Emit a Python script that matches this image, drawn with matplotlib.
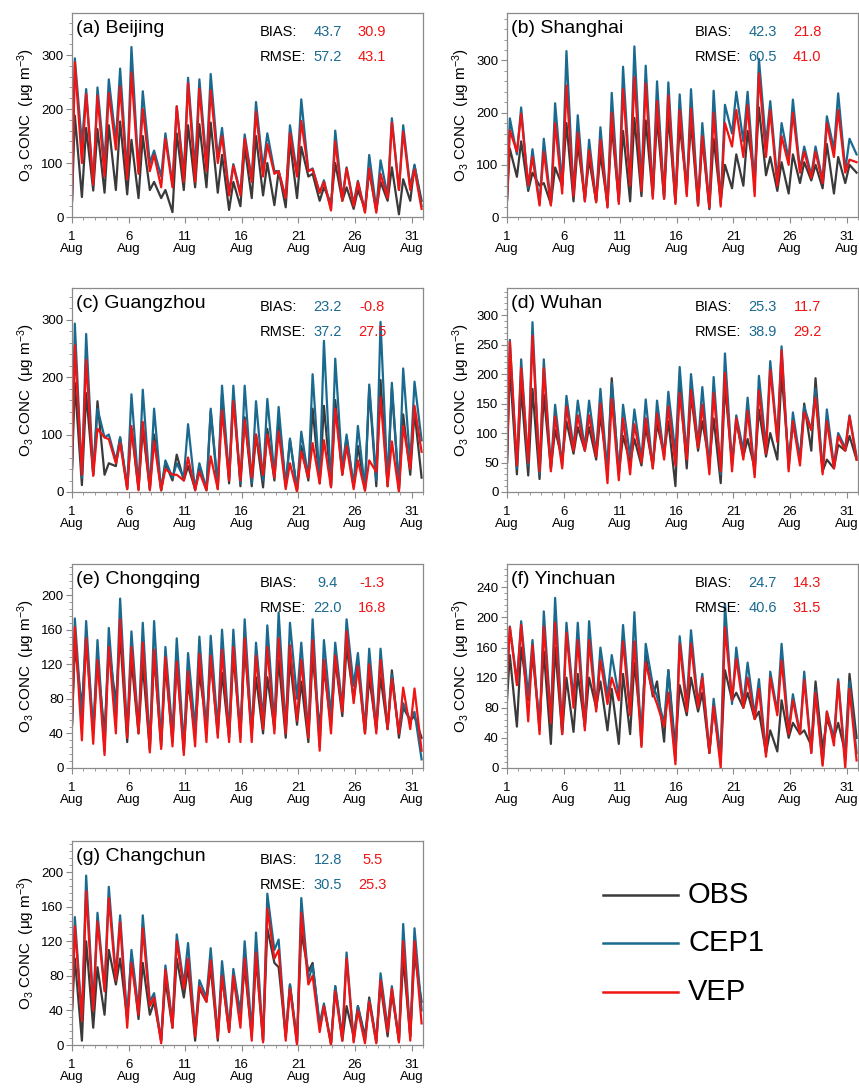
import numpy as np
import matplotlib
matplotlib.use("Agg")
import matplotlib.pyplot as plt
from matplotlib.ticker import MultipleLocator

plt.rcParams["font.family"] = ["Liberation Sans", "DejaVu Sans"]
plt.rcParams["mathtext.default"] = "regular"

# Hourly O3 read off the picture as: value at 00 UTC on 1 Aug, then for each
# day the afternoon peak (~06 UTC) and the night trough (~21 UTC).
bj_obs = [30, 188, 37, 165, 49, 163, 45, 170, 50, 177, 42, 143, 35, 150, 50, 65, 35, 50, 9, 155, 50,
          170, 55, 172, 55, 175, 45, 115, 13, 65, 20, 130, 35, 150, 40, 100, 22, 85, 18, 140, 35,
          130, 75, 80, 30, 55, 25, 100, 30, 55, 15, 50, 15, 85, 12, 65, 30, 92, 5, 70, 30, 95, 30]
bj_cep = [30, 294, 135, 237, 60, 240, 100, 255, 140, 275, 80, 315, 85, 233, 100, 123, 75, 155, 60, 205, 80,
          258, 90, 255, 100, 265, 110, 165, 45, 98, 45, 153, 70, 213, 90, 155, 85, 85, 35, 170, 80,
          218, 85, 90, 45, 68, 15, 160, 35, 92, 25, 67, 10, 115, 15, 105, 40, 183, 50, 170, 55, 97, 20]
bj_vep = [30, 287, 100, 228, 60, 225, 75, 230, 125, 242, 70, 268, 80, 200, 85, 115, 55, 145, 55, 205, 65,
          248, 65, 238, 85, 235, 100, 150, 40, 95, 40, 145, 65, 195, 75, 135, 80, 85, 35, 155, 75,
          178, 85, 88, 45, 65, 12, 140, 30, 90, 20, 65, 8, 90, 8, 80, 35, 175, 50, 158, 50, 88, 15]

sh_obs = [32, 131, 77, 145, 50, 85, 60, 65, 25, 95, 60, 180, 30, 140, 35, 110, 30, 120, 25, 175, 30,
          165, 30, 190, 40, 185, 40, 190, 35, 195, 28, 175, 60, 180, 22, 150, 15, 150, 30, 100, 55,
          120, 60, 165, 75, 210, 80, 115, 50, 105, 45, 120, 65, 105, 70, 100, 55, 140, 45, 115, 65, 100, 85]
sh_cep = [32, 189, 120, 210, 55, 130, 25, 150, 25, 218, 60, 318, 45, 195, 30, 148, 30, 172, 20, 238, 30,
          288, 65, 327, 60, 290, 45, 260, 40, 258, 30, 235, 45, 245, 25, 180, 20, 242, 25, 215, 160,
          240, 145, 240, 60, 303, 140, 222, 70, 180, 110, 225, 90, 135, 80, 135, 70, 193, 130, 237, 90, 150, 120]
sh_vep = [32, 166, 125, 198, 60, 115, 22, 125, 22, 180, 45, 252, 40, 162, 30, 128, 28, 148, 18, 200, 25,
          245, 60, 268, 50, 256, 35, 222, 35, 233, 25, 205, 40, 208, 22, 155, 18, 200, 20, 180, 135,
          205, 115, 215, 40, 275, 115, 205, 60, 155, 100, 200, 85, 125, 75, 125, 65, 180, 115, 205, 85, 110, 105]

gz_obs = [40, 190, 12, 172, 30, 158, 30, 50, 45, 95, 5, 110, 5, 110, 5, 100, 3, 50, 20, 65, 20,
          45, 5, 45, 3, 140, 5, 170, 15, 170, 10, 130, 10, 100, 8, 110, 20, 130, 10, 90, 5,
          80, 20, 145, 15, 150, 10, 160, 30, 95, 10, 80, 5, 180, 10, 195, 10, 180, 5, 135, 30, 140, 25]
gz_cep = [40, 293, 25, 275, 30, 145, 95, 100, 55, 95, 10, 170, 8, 178, 5, 145, 3, 55, 25, 50, 25,
          118, 3, 50, 5, 145, 10, 185, 25, 185, 15, 185, 15, 158, 20, 162, 30, 148, 10, 93, 3,
          105, 25, 205, 20, 263, 10, 232, 40, 100, 10, 115, 5, 187, 20, 296, 15, 190, 5, 215, 50, 192, 90]
gz_vep = [40, 255, 30, 230, 28, 110, 95, 92, 50, 85, 5, 115, 3, 122, 3, 88, 3, 40, 30, 30, 20,
          60, 3, 35, 3, 62, 5, 142, 20, 158, 20, 125, 25, 100, 30, 100, 25, 105, 5, 50, 0,
          70, 25, 85, 15, 90, 8, 145, 30, 80, 5, 55, 2, 55, 35, 165, 10, 88, 0, 115, 40, 150, 70]

wh_obs = [50, 212, 30, 175, 28, 175, 22, 165, 40, 105, 55, 120, 65, 110, 70, 110, 55, 130, 40, 193, 30,
          95, 50, 90, 45, 110, 45, 115, 65, 120, 10, 190, 40, 165, 70, 120, 50, 125, 15, 180, 50,
          120, 60, 90, 40, 140, 60, 100, 55, 200, 55, 115, 60, 150, 70, 193, 35, 55, 40, 80, 70, 95, 55]
wh_cep = [50, 258, 40, 225, 45, 288, 30, 225, 40, 148, 45, 163, 75, 155, 75, 155, 65, 175, 30, 185, 30,
          148, 60, 140, 55, 157, 40, 155, 60, 170, 65, 212, 60, 200, 80, 178, 40, 195, 30, 235, 45,
          130, 70, 160, 30, 197, 75, 222, 90, 247, 40, 135, 55, 145, 105, 175, 35, 140, 45, 100, 75, 130, 60]
wh_vep = [50, 255, 45, 210, 50, 265, 35, 210, 35, 128, 40, 145, 70, 130, 70, 130, 60, 150, 15, 158, 20,
          125, 30, 115, 50, 125, 40, 133, 55, 145, 45, 168, 55, 173, 75, 148, 30, 168, 35, 202, 35,
          125, 55, 138, 25, 172, 65, 207, 85, 240, 35, 120, 45, 135, 105, 160, 30, 120, 40, 95, 70, 128, 55]

cq_obs = [50, 142, 70, 152, 40, 125, 40, 140, 75, 153, 30, 125, 40, 120, 20, 130, 25, 120, 30, 125, 20,
          100, 40, 110, 50, 125, 40, 110, 35, 130, 40, 140, 40, 105, 40, 105, 45, 125, 35, 125, 50,
          100, 30, 130, 45, 115, 50, 125, 60, 140, 80, 120, 40, 105, 45, 105, 45, 113, 35, 70, 55, 60, 35]
cq_cep = [50, 173, 55, 170, 40, 148, 20, 162, 55, 196, 40, 158, 45, 168, 25, 170, 30, 140, 40, 150, 25,
          133, 45, 152, 40, 153, 45, 160, 40, 160, 35, 172, 40, 145, 55, 165, 50, 180, 45, 168, 80,
          145, 40, 172, 25, 148, 60, 145, 70, 172, 95, 133, 45, 138, 45, 138, 45, 108, 40, 75, 55, 65, 10]
cq_vep = [50, 163, 32, 150, 28, 125, 15, 140, 40, 172, 35, 140, 40, 145, 18, 137, 22, 128, 25, 123, 15,
          112, 25, 132, 30, 130, 35, 137, 30, 140, 30, 150, 30, 130, 45, 140, 40, 150, 40, 142, 55,
          125, 35, 148, 20, 125, 40, 130, 65, 158, 75, 118, 40, 120, 40, 125, 45, 103, 40, 93, 45, 92, 20]

yc_obs = [90, 150, 55, 160, 90, 150, 60, 155, 32, 160, 45, 120, 48, 125, 55, 120, 80, 115, 50, 105, 32,
          125, 45, 140, 50, 150, 95, 115, 35, 130, 25, 110, 70, 120, 75, 100, 20, 80, 10, 130, 90,
          100, 80, 100, 65, 75, 20, 50, 22, 90, 40, 60, 45, 50, 30, 115, 25, 65, 40, 60, 20, 125, 40]
yc_cep = [115, 188, 115, 195, 95, 170, 50, 208, 65, 226, 50, 193, 90, 193, 55, 195, 80, 160, 95, 150, 95,
          190, 75, 207, 30, 165, 110, 95, 60, 130, 10, 175, 85, 183, 85, 125, 20, 92, 15, 218, 85,
          160, 85, 140, 70, 118, 20, 128, 75, 165, 50, 98, 45, 128, 20, 103, 5, 75, 40, 118, 10, 115, 20]
yc_vep = [115, 187, 110, 190, 62, 163, 45, 188, 60, 193, 45, 180, 80, 170, 50, 170, 75, 143, 85, 120, 90,
          168, 70, 168, 28, 140, 100, 85, 55, 100, 5, 165, 75, 165, 80, 120, 20, 82, 0, 187, 90,
          145, 80, 120, 65, 105, 15, 120, 70, 143, 45, 90, 45, 117, 20, 100, 3, 75, 30, 115, 0, 105, 10]

cc_obs = [40, 100, 5, 120, 20, 90, 35, 110, 70, 100, 30, 105, 30, 95, 35, 50, 5, 75, 20, 100, 55,
          90, 5, 65, 50, 90, 5, 80, 15, 75, 40, 90, 10, 100, 5, 135, 95, 90, 10, 70, 5,
          130, 85, 95, 20, 45, 2, 68, 5, 45, 10, 45, 10, 55, 5, 70, 10, 60, 5, 100, 10, 105, 50]
cc_cep = [40, 148, 30, 196, 45, 153, 65, 183, 80, 150, 30, 110, 40, 150, 50, 60, 5, 92, 25, 128, 70,
          118, 15, 75, 55, 112, 10, 97, 20, 88, 35, 120, 15, 130, 5, 175, 110, 122, 10, 70, 2,
          170, 75, 92, 25, 48, 2, 68, 10, 107, 5, 45, 5, 52, 3, 83, 20, 68, 5, 140, 10, 135, 40]
cc_vep = [40, 137, 28, 178, 40, 143, 62, 170, 75, 142, 20, 95, 35, 135, 45, 55, 2, 87, 20, 120, 65,
          100, 10, 68, 50, 98, 8, 80, 15, 80, 20, 100, 5, 107, 3, 158, 100, 110, 5, 65, 0,
          153, 70, 80, 15, 45, 0, 62, 5, 100, 3, 40, 2, 50, 2, 75, 15, 65, 3, 120, 5, 120, 25]

cities = ["(a) Beijing", "(b) Shanghai", "(c) Guangzhou", "(d) Wuhan",
          "(e) Chongqing", "(f) Yinchuan", "(g) Changchun"]
obs_all = [bj_obs, sh_obs, gz_obs, wh_obs, cq_obs, yc_obs, cc_obs]
cep_all = [bj_cep, sh_cep, gz_cep, wh_cep, cq_cep, yc_cep, cc_cep]
vep_all = [bj_vep, sh_vep, gz_vep, wh_vep, cq_vep, yc_vep, cc_vep]

bias_cep = ["43.7", "42.3", "23.2", "25.3", "9.4", "24.7", "12.8"]
bias_vep = ["30.9", "21.8", "-0.8", "11.7", "-1.3", "14.3", "5.5"]
rmse_cep = ["57.2", "60.5", "37.2", "38.9", "22.0", "40.6", "30.5"]
rmse_vep = ["43.1", "41.0", "27.5", "29.2", "16.8", "31.5", "25.3"]

y_top = [378, 391, 355, 346, 236, 271, 236]
y_step = [100, 100, 100, 50, 40, 40, 40]

C_OBS = "#3a3a3a"
C_CEP = "#1a6a90"
C_VEP = "#f01414"
C_AX = "#8a8a8a"

# time axis in days: 1 Aug 00 UTC = 1.0
peak_hour, low_hour = 6, 21
t = [1.0]
for d in range(31):
    t += [1 + d + peak_hour / 24, 1 + d + low_hour / 24]
t = np.array(t)

fig = plt.figure(figsize=(8.59, 10.88), dpi=100)

W, H = 351 / 859, 204 / 1088
lefts = [72 / 859, 507 / 859]
bottoms = [1 - 217 / 1088, 1 - 492 / 1088, 1 - 768 / 1088, 1 - 1045 / 1088]

for i, name in enumerate(cities):
    ax = fig.add_axes([lefts[i % 2], bottoms[i // 2], W, H])
    ax.plot(t, obs_all[i], color=C_OBS, lw=1.6)
    ax.plot(t, cep_all[i], color=C_CEP, lw=1.6)
    ax.plot(t, vep_all[i], color=C_VEP, lw=1.6)

    ax.set_xlim(1, 32)
    ax.set_ylim(0, y_top[i])
    ax.set_xticks(range(1, 32, 5))
    ax.set_xticklabels([f"{d}\nAug" for d in range(1, 32, 5)], linespacing=1.05)
    ax.xaxis.set_minor_locator(MultipleLocator(1))
    ax.yaxis.set_major_locator(MultipleLocator(y_step[i]))
    ax.yaxis.set_minor_locator(MultipleLocator(y_step[i] / 5))
    ax.tick_params(which="major", direction="out", length=4, width=0.8,
                   color=C_AX, labelsize=9.5, pad=2)
    ax.tick_params(which="minor", direction="out", length=2, width=0.6, color=C_AX)
    ax.tick_params(axis="x", which="major", pad=6)
    for s in ax.spines.values():
        s.set_color(C_AX)
        s.set_linewidth(0.9)
    ax.set_ylabel("O$_3$ CONC  (\u03bcg m$^{-3}$)", fontsize=11, labelpad=3)

    ax.text(0.012, 0.925, name, transform=ax.transAxes, fontsize=14,
            ha="left", va="center")
    ax.text(0.536, 0.905, "BIAS:", transform=ax.transAxes, fontsize=10.5,
            ha="left", va="center")
    ax.text(0.536, 0.782, "RMSE:", transform=ax.transAxes, fontsize=10.5,
            ha="left", va="center")
    ax.text(0.729, 0.905, bias_cep[i], transform=ax.transAxes, fontsize=10.5,
            color=C_CEP, ha="center", va="center")
    ax.text(0.855, 0.905, bias_vep[i], transform=ax.transAxes, fontsize=10.5,
            color=C_VEP, ha="center", va="center")
    ax.text(0.729, 0.782, rmse_cep[i], transform=ax.transAxes, fontsize=10.5,
            color=C_CEP, ha="center", va="center")
    ax.text(0.855, 0.782, rmse_vep[i], transform=ax.transAxes, fontsize=10.5,
            color=C_VEP, ha="center", va="center")

# legend drawn as free lines + labels in the empty slot
labels = ["OBS", "CEP1", "VEP"]
colors = [C_OBS, C_CEP, C_VEP]
ys = [895, 943, 992]
for lab, col, y in zip(labels, colors, ys):
    fy = 1 - y / 1088
    fig.add_artist(plt.Line2D([603 / 859, 678 / 859], [fy, fy], color=col, lw=1.8,
                              transform=fig.transFigure))
    fig.text(688 / 859, fy, lab, fontsize=21, ha="left", va="center")

fig.savefig("out.png", dpi=100)
